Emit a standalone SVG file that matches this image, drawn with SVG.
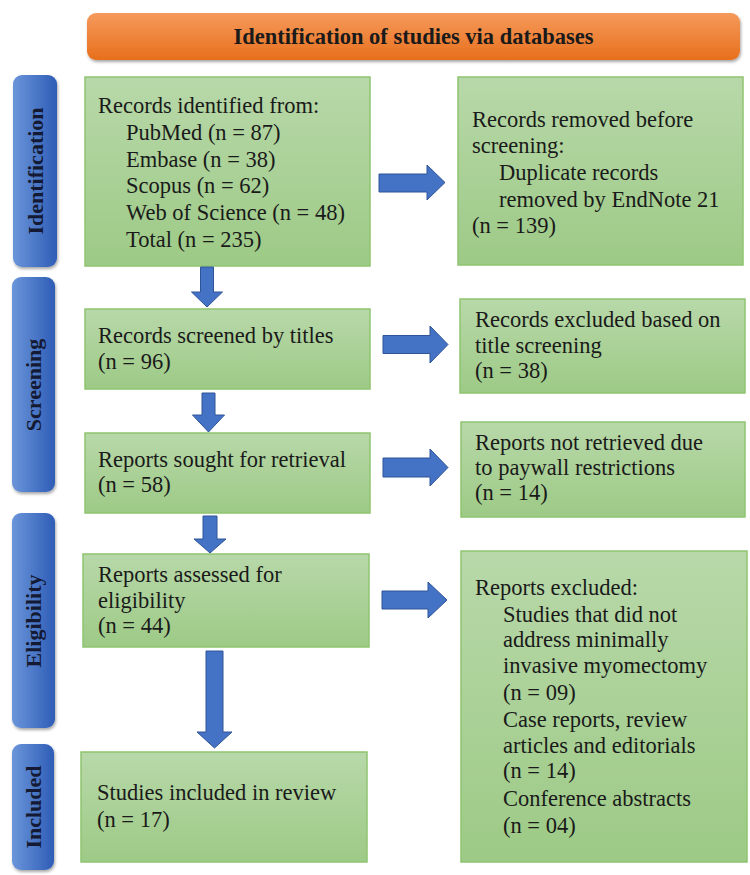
<svg xmlns="http://www.w3.org/2000/svg" width="750" height="875" viewBox="0 0 750 875">
<defs>
<linearGradient id="gOrange" x1="0" y1="0" x2="0" y2="1">
<stop offset="0" stop-color="#F59A5C"/>
<stop offset="1" stop-color="#E86F1C"/>
</linearGradient>
<linearGradient id="gBlue" x1="0" y1="0" x2="1" y2="0">
<stop offset="0" stop-color="#6B95DA"/>
<stop offset="1" stop-color="#2E5DB6"/>
</linearGradient>
<linearGradient id="gGreen" x1="0" y1="0" x2="0" y2="1">
<stop offset="0" stop-color="#B8D8A9"/>
<stop offset="1" stop-color="#9DCA86"/>
</linearGradient>
<filter id="shadow" x="-20%" y="-20%" width="140%" height="140%">
<feDropShadow dx="1" dy="2" stdDeviation="1.5" flood-color="#000" flood-opacity="0.35"/>
</filter>
</defs>
<style>
.t{font-family:"Liberation Serif","Times New Roman",serif;font-size:22.5px;fill:#1a1a1a}
.side{font-family:"Liberation Serif","Times New Roman",serif;font-size:22px;font-weight:bold;fill:#141a33}
.title{font-family:"Liberation Serif","Times New Roman",serif;font-size:22.5px;font-weight:bold;fill:#1a1a1a}
.box{fill:url(#gGreen);stroke:#8FC46F;stroke-width:1.5}
.lab{fill:url(#gBlue);filter:url(#shadow)}
.arr{fill:#4472C4;stroke:#2F5597;stroke-width:1}
</style>
<rect width="750" height="875" fill="#ffffff"/>

<g id="header">
<rect x="87" y="13" width="653" height="47" rx="9" fill="url(#gOrange)" filter="url(#shadow)"/>
<text class="title" x="413.5" y="44" text-anchor="middle">Identification of studies via databases</text>
</g>

<g id="phase-identification">
<rect class="lab" x="13" y="75" width="44" height="192" rx="9"/>
<text class="side" transform="translate(43,171) rotate(-90)" text-anchor="middle">Identification</text>
</g>
<g id="phase-screening">
<rect class="lab" x="12" y="277" width="43" height="215" rx="9"/>
<text class="side" transform="translate(41,385) rotate(-90)" text-anchor="middle">Screening</text>
</g>
<g id="phase-eligibility">
<rect class="lab" x="12" y="513" width="43" height="215" rx="9"/>
<text class="side" transform="translate(41,621) rotate(-90)" text-anchor="middle">Eligibility</text>
</g>
<g id="phase-included">
<rect class="lab" x="12" y="744" width="42" height="126" rx="9"/>
<text class="side" transform="translate(41,807) rotate(-90)" text-anchor="middle">Included</text>
</g>

<g id="records-identified">
<rect class="box" x="85" y="77" width="285" height="189"/>
<text class="t" x="98" y="113">Records identified from:</text>
<text class="t" x="126" y="140">PubMed (n = 87)</text>
<text class="t" x="126" y="167">Embase (n = 38)</text>
<text class="t" x="126" y="193">Scopus (n = 62)</text>
<text class="t" x="126" y="220">Web of Science (n = 48)</text>
<text class="t" x="126" y="247">Total (n = 235)</text>
</g>

<g id="records-removed">
<rect class="box" x="458" y="77" width="285" height="188"/>
<text class="t" x="472" y="127">Records removed before</text>
<text class="t" x="472" y="153">screening:</text>
<text class="t" x="499" y="180">Duplicate records</text>
<text class="t" x="499" y="207">removed by EndNote 21</text>
<text class="t" x="472" y="233">(n = 139)</text>
</g>

<g id="records-screened">
<rect class="box" x="85" y="309" width="285" height="80"/>
<text class="t" x="98" y="343">Records screened by titles</text>
<text class="t" x="98" y="369">(n = 96)</text>
</g>

<g id="records-excluded">
<rect class="box" x="460" y="299" width="285" height="94"/>
<text class="t" x="475" y="327">Records excluded based on</text>
<text class="t" x="475" y="353">title screening</text>
<text class="t" x="475" y="378">(n = 38)</text>
</g>

<g id="reports-sought">
<rect class="box" x="85" y="433" width="285" height="80"/>
<text class="t" x="98" y="467">Reports sought for retrieval</text>
<text class="t" x="98" y="492">(n = 58)</text>
</g>

<g id="reports-not-retrieved">
<rect class="box" x="461" y="422" width="284" height="95"/>
<text class="t" x="475" y="450">Reports not retrieved due</text>
<text class="t" x="475" y="475">to paywall restrictions</text>
<text class="t" x="475" y="500">(n = 14)</text>
</g>

<g id="reports-assessed">
<rect class="box" x="83" y="554" width="286" height="93"/>
<text class="t" x="98" y="582">Reports assessed for</text>
<text class="t" x="98" y="608">eligibility</text>
<text class="t" x="98" y="633">(n = 44)</text>
</g>

<g id="reports-excluded">
<rect class="box" x="461" y="551" width="286" height="311"/>
<text class="t" x="475" y="595">Reports excluded:</text>
<text class="t" x="503" y="622">Studies that did not</text>
<text class="t" x="503" y="647">address minimally</text>
<text class="t" x="503" y="673">invasive myomectomy</text>
<text class="t" x="503" y="700">(n = 09)</text>
<text class="t" x="503" y="727">Case reports, review</text>
<text class="t" x="503" y="753">articles and editorials</text>
<text class="t" x="503" y="778">(n = 14)</text>
<text class="t" x="503" y="806">Conference abstracts</text>
<text class="t" x="503" y="833">(n = 04)</text>
</g>

<g id="studies-included">
<rect class="box" x="81" y="752" width="286" height="110"/>
<text class="t" x="97" y="800">Studies included in review</text>
<text class="t" x="97" y="827">(n = 17)</text>
</g>

<g id="connectors">
<polygon class="arr" points="379,174 427,174 427,165 445,182.5 427,200 427,192 379,192"/>
<polygon class="arr" points="383,335.5 430,335.5 430,326 448,344.5 430,363 430,353.5 383,353.5"/>
<polygon class="arr" points="383,458 430,458 430,449 448,467.5 430,486 430,477 383,477"/>
<polygon class="arr" points="382,591 428,591 428,582 447,600 428,618 428,609 382,609"/>
<polygon class="arr" points="200.5,267 213.5,267 213.5,292 222.5,292 207,307 191.5,292 200.5,292"/>
<polygon class="arr" points="202,393 215,393 215,415 224.5,415 208.5,432 192.5,415 202,415"/>
<polygon class="arr" points="203,516 217,516 217,539 226,539 210,553 194,539 203,539"/>
<polygon class="arr" points="206,651 223,651 223,732 232,732 214.5,748 197,732 206,732"/>
</g>
</svg>
